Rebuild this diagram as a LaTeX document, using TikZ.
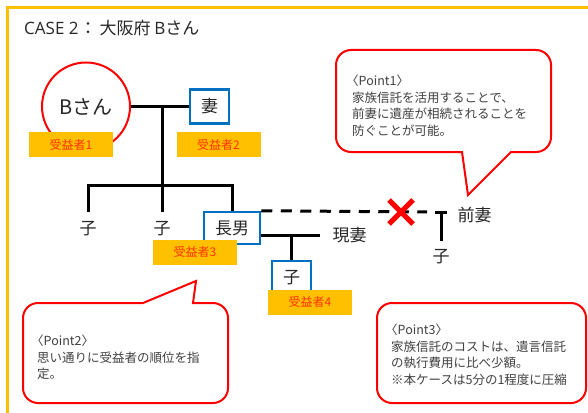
\documentclass[tikz,border=0pt]{standalone}
\usepackage{fontspec}
\setmainfont{Noto Sans CJK JP}
\newfontfamily\latinfont{Open Sans}
\definecolor{frameorange}{HTML}{FFC000}
\definecolor{boxblue}{HTML}{0070C0}
\definecolor{benefred}{HTML}{FF3300}
\definecolor{txt}{HTML}{262626}
\definecolor{ctxt}{HTML}{404040}
\begin{document}
\begin{tikzpicture}[x=1pt,y=-1pt,
  famline/.style={line width=3pt, black},
  pbox/.style={draw=boxblue, line width=2.5pt, fill=white, inner sep=0pt, text=txt, font=\fontsize{17}{20}\selectfont},
  famtext/.style={inner sep=0pt, text=txt, font=\fontsize{17}{20}\selectfont},
  benef/.style={fill=frameorange, minimum width=84pt, minimum height=25pt, inner sep=0pt, text=benefred, font=\fontsize{12}{14}\selectfont},
  callout/.style={draw=red, line width=2pt, fill=white},
  ctext/.style={anchor=north west, align=left, inner sep=0pt, text=ctxt, font=\fontsize{12.5}{16.5}\selectfont},
  frameline/.style={draw=frameorange, line width=2.5pt}
]
\useasboundingbox (0,0) rectangle (588,412);
% frame
\coordinate (fbl) at (7.5,414);
\coordinate (ftl) at (7.5,7.5);
\coordinate (ftr) at (590,7.5);
\draw[frameline] (fbl) -- (ftl) -- (ftr);
% title
\node[anchor=west, inner sep=0pt, text=txt, font=\fontsize{17}{20}\selectfont] (title) at (24,28) {{\latinfont CASE 2}\hspace{1pt}：\hspace{3pt}大阪府 {\latinfont B}さん};

% people
\node[circle, draw=red, line width=2pt, minimum size=88pt, inner sep=0pt, text=txt, font=\fontsize{20}{24}\selectfont] (B) at (86,106.5) {Bさん};
\node[pbox, minimum width=39pt, minimum height=34pt] (wife) at (209.5,106.5) {妻};
\node[famtext] (c1) at (88,229) {子};
\node[famtext] (c2) at (162,229) {子};
\node[pbox, minimum width=56pt, minimum height=32pt] (son) at (232,228) {長男};
\node[famtext] (cw) at (349.5,235) {現妻};
\node[famtext] (ex) at (474.5,215) {前妻};
\node[famtext] (c4) at (441,257) {子};
\node[pbox, minimum width=39pt, minimum height=33pt] (gc) at (291.5,277.5) {子};

% connectors
\coordinate (j1) at (162,106.5);
\coordinate (j2) at (162,185);
\coordinate (c1top) at (88,212);
\coordinate (c2top) at (162,212);
\draw[famline] (B.east) -- (wife.west);
\draw[famline] (j1) -- (j2);
\draw[famline] (c1top) |- (j2) -| (son.north);
\draw[famline] (c2top) -- (j2);
\coordinate (cwl) at (320,235);
\coordinate (j3) at (291.5,235);
\draw[famline] (son.east |- cw) -- (cwl);
\draw[famline] (j3) -- (gc.north);
\coordinate (dashend) at (427,212);
\draw[famline, dash pattern=on 11pt off 8.5pt] (son.north east) -- (dashend);
\coordinate (tl) at (435,212);
\coordinate (tr) at (447,212);
\coordinate (tm) at (441,212);
\coordinate (tb) at (441,241);
\draw[famline] (tl) -- (tr);
\draw[famline] (tm) -- (tb);
\coordinate (cross) at (401,212);
\draw[red, line width=5pt] (cross) ++(-12,-12) -- ++(24,24);
\draw[red, line width=5pt] (cross) ++(12,-12) -- ++(-24,24);

% redraw box over line ends
\node[pbox, minimum width=56pt, minimum height=32pt] at (son) {長男};

% beneficiaries
\node[benef] (b1) at (71,144.5) {受益者1};
\node[benef] (b2) at (218.5,144.5) {受益者2};
\node[benef] (b3) at (195,252) {受益者3};
\node[benef] (b4) at (310,302) {受益者4};

% callouts
\draw[callout] (351,50) -- (536,50) arc(270:360:15) -- (551,137) arc(0:90:15) -- (511,152) -- (468,195) -- (462,152) -- (351,152) arc(90:180:15) -- (336,65) arc(180:270:15) -- cycle;
\node[ctext] (p1) at (352,75) {\hspace*{-6pt}〈Point1〉\\家族信託を活用することで、\\前妻に遺産が相続されることを\\防ぐことが可能。};

\draw[callout] (38,303) -- (143,303) -- (196,281) -- (193,303) -- (213,303) arc(270:360:15) -- (228,388) arc(0:90:15) -- (38,403) arc(90:180:15) -- (23,318) arc(180:270:15) -- cycle;
\node[ctext] (p2) at (37,335) {\hspace*{-6pt}〈Point2〉\\思い通りに受益者の順位を指\\定。};

\draw[callout, rounded corners=15pt] (377,303) rectangle (586,403);
\node[ctext] (p3) at (391,324) {\hspace*{-6pt}〈Point3〉\\家族信託のコストは、遺言信託\\の執行費用に比べ少額。\\※本ケースは5分の1程度に圧縮};
\end{tikzpicture}
\end{document}
